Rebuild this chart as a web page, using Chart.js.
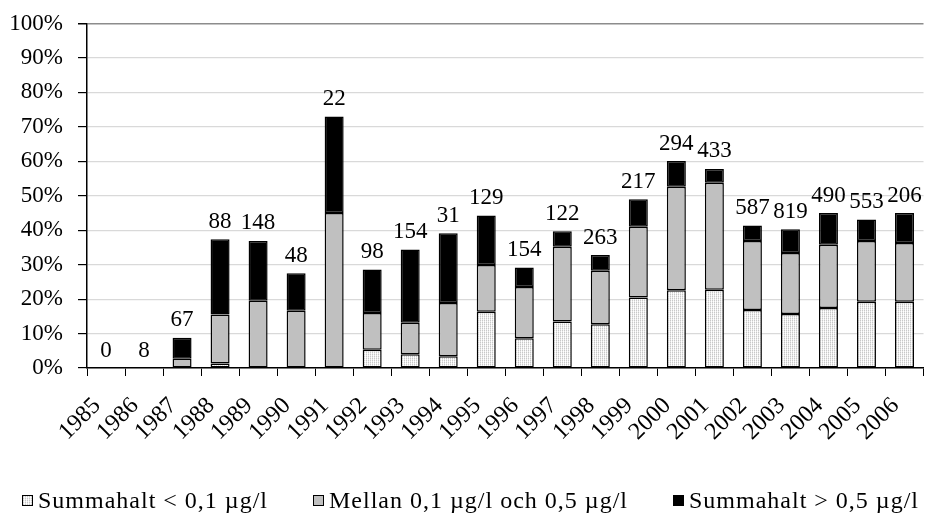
<!DOCTYPE html>
<html>
<head>
<meta charset="utf-8">
<script src="https://cdn.jsdelivr.net/npm/chart.js@4/dist/chart.umd.min.js"></script>
<style>
  html, body { margin: 0; padding: 0; background: #fff; }
  #wrap { position: relative; width: 925px; height: 514px; }
  #legend {
    position: absolute; left: 22px; right: 6px; top: 486px;
    display: flex; justify-content: space-between;
    font-family: "Liberation Serif", "Times New Roman", serif;
    font-size: 24px; line-height: 28px; color: #000; letter-spacing: 1px;
  }
  .item { display: flex; align-items: center; white-space: nowrap; }
  .box { width: 9px; height: 9px; border: 1px solid #000; margin-right: 5px; }
</style>
</head>
<body>
<div id="wrap">
  <canvas id="c" width="925" height="514"></canvas>
  <div id="legend"></div>
</div>
<script>
// Years and number of analysed samples per year
const years = ['1985','1986','1987','1988','1989','1990','1991','1992','1993','1994','1995',
               '1996','1997','1998','1999','2000','2001','2002','2003','2004','2005','2006'];
const sampleCounts = [0, 8, 67, 88, 148, 48, 22, 98, 154, 31, 129, 154, 122, 263, 217, 294, 433, 587, 819, 490, 553, 206];

// Share of samples (%) in each concentration class
const shareLow  = [0, 0, 0, 1.3, 0, 0, 0, 5.3, 4.0, 3.4, 16.3, 8.6, 13.5, 12.7, 20.5, 22.6, 22.7, 16.8, 15.7, 17.4, 19.2, 19.2];
const shareMid  = [0, 0, 2.7, 14.2, 19.5, 16.6, 45.0, 10.7, 9.1, 15.5, 13.6, 14.9, 21.7, 15.5, 20.5, 30.0, 31.1, 20.1, 17.7, 18.4, 17.7, 17.1];
const shareHigh = [0, 0, 6.1, 21.9, 17.4, 10.9, 28.0, 12.6, 21.3, 20.2, 14.4, 5.7, 4.5, 4.6, 8.0, 7.5, 4.0, 4.5, 6.9, 9.2, 6.2, 8.7];

const seriesNames = ['Summahalt < 0,1 µg/l', 'Mellan 0,1 µg/l och 0,5 µg/l', 'Summahalt > 0,5 µg/l'];
const yTickValues = [0, 10, 20, 30, 40, 50, 60, 70, 80, 90, 100];

const FONT = '"Liberation Serif", "Times New Roman", serif';

// Fine stippled fill for the lowest class
function makeStipple() {
  const pc = document.createElement('canvas');
  pc.width = 2; pc.height = 2;
  const p = pc.getContext('2d');
  p.fillStyle = '#ffffff'; p.fillRect(0, 0, 2, 2);
  p.fillStyle = '#c8c8c8'; p.fillRect(0, 0, 1, 1);
  p.fillStyle = '#e4e4e4'; p.fillRect(0, 1, 1, 1);
  p.fillStyle = '#f6f6f6'; p.fillRect(1, 0, 1, 1);
  return pc;
}
const stippleCanvas = makeStipple();
const ctx = document.getElementById('c').getContext('2d');
const stipple = ctx.createPattern(stippleCanvas, 'repeat');

const fills = [stipple, '#c0c0c0', '#000000'];

// Sample counts written above each stacked column
const countLabels = {
  id: 'countLabels',
  afterDatasetsDraw(chart) {
    const meta = chart.getDatasetMeta(chart.data.datasets.length - 1);
    const c = chart.ctx;
    c.save();
    c.font = '23px ' + FONT;
    c.fillStyle = '#000';
    c.textAlign = 'center';
    c.textBaseline = 'bottom';
    meta.data.forEach((bar, i) => {
      c.fillText(String(sampleCounts[i]), bar.x, bar.y - 6);
    });
    c.restore();
  }
};

// Year labels, slanted 45 degrees under each column
const slantedYears = {
  id: 'slantedYears',
  afterDraw(chart) {
    const xs = chart.scales.x;
    const c = chart.ctx;
    const base = chart.chartArea.bottom;
    c.save();
    c.font = '24px ' + FONT;
    c.fillStyle = '#000';
    c.textAlign = 'right';
    c.textBaseline = 'middle';
    years.forEach((yr, i) => {
      const x = xs.getPixelForTick(i);
      c.save();
      c.translate(x - 9, base + 34);
      c.rotate(-Math.PI / 4);
      c.fillText(yr, 0, 0);
      c.restore();
    });
    c.restore();
  }
};

new Chart(ctx, {
  type: 'bar',
  data: {
    labels: years,
    datasets: [shareLow, shareMid, shareHigh].map((vals, k) => ({
      label: seriesNames[k],
      data: vals,
      backgroundColor: fills[k],
      borderColor: '#000',
      borderWidth: 1.5,
      borderSkipped: false,
      barPercentage: 0.5,
      categoryPercentage: 1.0
    }))
  },
  options: {
    responsive: false,
    animation: false,
    devicePixelRatio: 1,
    layout: { padding: { left: 0, top: 23.5, right: 1.5, bottom: 60 } },
    plugins: {
      legend: { display: false },
      tooltip: { enabled: false }
    },
    scales: {
      x: {
        stacked: true,
        grid: { drawOnChartArea: false, drawTicks: true, tickLength: 8, tickColor: '#000', offset: true },
        border: { color: '#000', width: 1.5 },
        ticks: { display: false },
        afterFit(scale) {
          scale.height = 86;
          scale.paddingLeft = 0; scale.paddingRight = 0;
        }
      },
      y: {
        stacked: true,
        min: 0, max: 100,
        afterBuildTicks(scale) { scale.ticks = yTickValues.map(v => ({ value: v })); },
        afterFit(scale) {
          scale.width = 87;
          scale.paddingTop = 0; scale.paddingBottom = 0;
        },
        grid: {
          color: c => (c.tick && c.tick.value === 100 ? '#8c8c8c' : '#d9d9d9'),
          lineWidth: c => (c.tick && c.tick.value === 100 ? 1.5 : 1.2),
          tickColor: '#000', tickLength: 9
        },
        border: { color: '#000', width: 1.5 },
        ticks: {
          padding: 15, color: '#000', font: { family: FONT, size: 23 },
          callback: v => v + '%'
        }
      }
    }
  },
  plugins: [countLabels, slantedYears]
});

// Legend row under the chart
const legend = document.getElementById('legend');
const stippleURL = stippleCanvas.toDataURL();
seriesNames.forEach((name, k) => {
  const item = document.createElement('div');
  item.className = 'item';
  const box = document.createElement('span');
  box.className = 'box';
  if (k === 0) box.style.background = 'url(' + stippleURL + ') repeat';
  else box.style.background = fills[k];
  const txt = document.createElement('span');
  txt.textContent = name;
  item.appendChild(box);
  item.appendChild(txt);
  legend.appendChild(item);
});
</script>
</body>
</html>
